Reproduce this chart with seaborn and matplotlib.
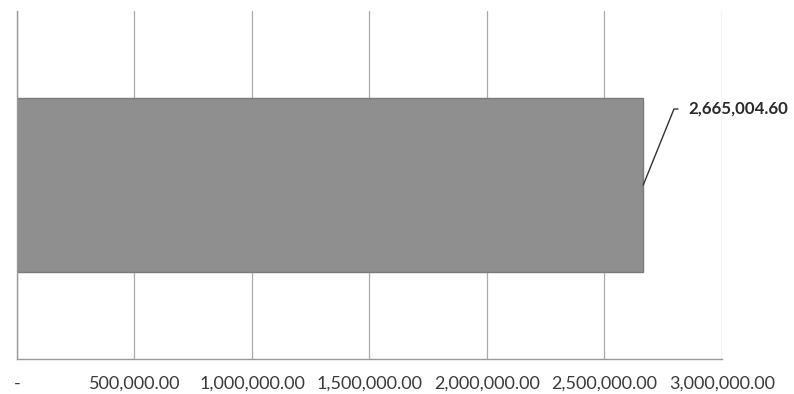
import matplotlib
matplotlib.use("Agg")
import matplotlib.pyplot as plt
import matplotlib.ticker as mticker
import seaborn as sns
import pandas as pd

categories = ["Total"]
values = [2665004.60]
x_ticks = [0, 500000, 1000000, 1500000, 2000000, 2500000, 3000000]

df = pd.DataFrame({"category": categories, "value": values})

sns.set_style("white")
plt.rcParams['font.family'] = ['Lato', 'DejaVu Sans']

fig = plt.figure(figsize=(7.94, 3.94), dpi=100)
ax = fig.add_axes([0.0214, 0.0888, 0.8879, 0.8832])

sns.barplot(data=df, x="value", y="category", orient="h", color="#8f8f8f",
            width=0.5, edgecolor="#7a7a7a", linewidth=1.0, saturation=1, ax=ax)

ax.set_xlim(0, 3000000)
ax.set_ylim(0.5, -0.5)
ax.set_xticks(x_ticks)


def fmt(v, pos):
    if v == 0:
        return "-"
    return f"{v:,.2f}"


ax.xaxis.set_major_formatter(mticker.FuncFormatter(fmt))
ax.set_yticks([-0.5, 0.5])
ax.set_yticklabels([])
ax.set_xlabel("")
ax.set_ylabel("")

ax.grid(axis="x", color="#aaaaaa", linewidth=0.9)
ax.set_axisbelow(True)
for side in ["top", "right"]:
    ax.spines[side].set_visible(False)
for side in ["left", "bottom"]:
    ax.spines[side].set_color("#9a9a9a")
    ax.spines[side].set_linewidth(1.0)

ax.tick_params(axis="x", direction="out", length=4, color="#9a9a9a",
               labelsize=13, labelcolor="#3a3a3a", pad=8)
ax.tick_params(axis="y", direction="out", length=5, color="#9a9a9a")

# data label with leader line
v = values[0]
ax.annotate("", xy=(v, 0.0), xytext=(678 / 794, 1 - 109 / 394),
            textcoords="figure fraction",
            arrowprops=dict(arrowstyle="-", color="#333333", lw=1.0,
                            connectionstyle="angle,angleA=0,angleB=68,rad=0",
                            shrinkA=0, shrinkB=0))
fig.text(688 / 794, 1 - 109 / 394, f"{v:,.2f}", ha="left", va="center",
         fontsize=12.2, fontweight="bold", color="#2a2a2a")

fig.savefig("out.png", dpi=100)
